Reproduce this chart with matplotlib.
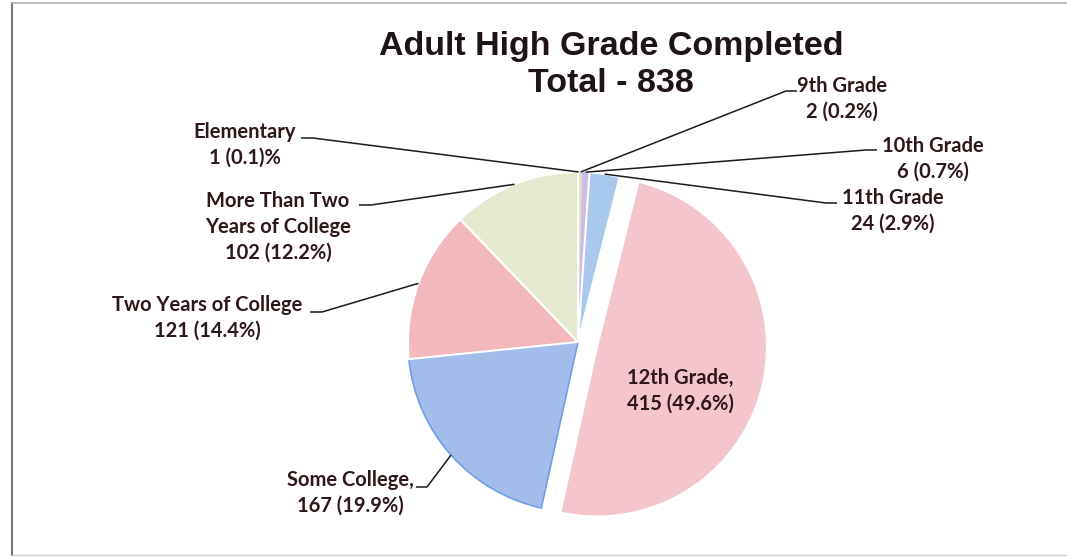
import numpy as np
import matplotlib.pyplot as plt

# data (clockwise from the top)
categories = ['Elementary', '9th Grade', '10th Grade', '11th Grade', '12th Grade',
              'Some College', 'Two Years of College', 'More Than Two Years of College']
counts = [1, 2, 6, 24, 415, 167, 121, 102]
pct_text = ['0.1', '0.2', '0.7', '2.9', '49.6', '19.9', '14.4', '12.2']
colors = ['#55779c', '#dfe6b4', '#cbbbe6', '#a9c8ee', '#f5c5cd',
          '#a2bdea', '#f2b8bd', '#e4e9d0']

W, H = 1067, 558
R = 170


def Y(y):
    # pixel row (top-down) -> data y
    return H - y


fig = plt.figure(figsize=(W / 100, H / 100), dpi=100)
ax = fig.add_axes([0, 0, 1, 1])

# only the 12th grade slice is pulled out
explode = [0.115 * R if c == '12th Grade' else 0 for c in categories]
wedges, _ = ax.pie(counts, colors=colors, explode=explode, startangle=90,
                   counterclock=False, radius=R, center=(578, Y(342)),
                   wedgeprops=dict(edgecolor='white', linewidth=1.5))
for w in wedges[:3]:
    w.set_linewidth(0)
wedges[5].set_edgecolor('#6f9fe4')
wedges[5].set_linewidth(1.2)

ax.set_xlim(0, W)
ax.set_ylim(0, H)
ax.set_aspect('equal')
ax.axis('off')

# label texts
labels = [
    'Elementary\n%d (%s)%%' % (counts[0], pct_text[0]),
    '9th Grade\n%d (%s%%)' % (counts[1], pct_text[1]),
    '10th Grade\n%d (%s%%)' % (counts[2], pct_text[2]),
    '11th Grade\n%d (%s%%)' % (counts[3], pct_text[3]),
    '12th Grade,\n%d (%s%%)' % (counts[4], pct_text[4]),
    'Some College,\n%d (%s%%)' % (counts[5], pct_text[5]),
    'Two Years of College\n%d (%s%%)' % (counts[6], pct_text[6]),
    'More Than Two\nYears of College\n%d (%s%%)' % (counts[7], pct_text[7]),
]
# text centre, leader start, leader stub end (pixels, top-down); None = no leader
layout = [
    ((245, 145), (301, 138), (313, 138)),
    ((842, 99), (797, 91), (786, 91)),
    ((933, 159), (877, 150), (866, 150)),
    ((893, 211), (837, 203), (826, 203)),
    ((680, 391), None, None),
    ((350, 493), (416, 487), (427, 487)),
    ((207, 318), (310, 312), (322, 312)),
    ((278, 227), (359, 205), (371, 205)),
]

label_color = '#2e1719'
for w, lab, (tc, p0, p1) in zip(wedges, labels, layout):
    ax.text(tc[0], Y(tc[1]), lab, ha='center', va='center', fontsize=14.5,
            fontweight='bold', family='Lato', color=label_color,
            linespacing=1.35)
    if p0 is None:
        continue
    th = np.deg2rad((w.theta1 + w.theta2) / 2)
    ax_, ay_ = w.center[0] + w.r * np.cos(th), w.center[1] + w.r * np.sin(th)
    ax.plot([p0[0], p1[0], ax_], [Y(p0[1]), Y(p1[1]), ay_],
            color='#1a1a1a', lw=1.1, solid_capstyle='butt')

# title
ax.text(611, Y(47), 'Adult High Grade Completed', ha='center', va='center',
        fontsize=24.5, fontweight='bold', family='Liberation Sans', color='#1e1416')
ax.text(611, Y(83), 'Total - 838', ha='center', va='center',
        fontsize=24.5, fontweight='bold', family='Liberation Sans', color='#1e1416')

# chart frame
ax.plot([12, 12], [Y(3), Y(555)], color='#777777', lw=1.5)
ax.plot([12, W], [Y(3), Y(3)], color='#b0b0b0', lw=1.2)
ax.plot([12, W], [Y(555), Y(555)], color='#d0d0d0', lw=1.0)

fig.savefig('out.png', dpi=100)
